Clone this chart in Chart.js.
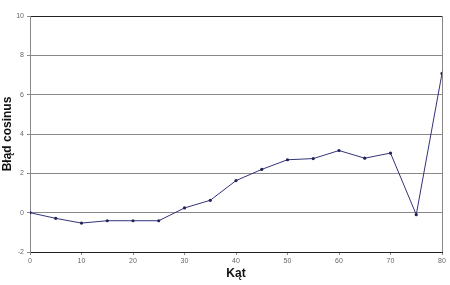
<!DOCTYPE html>
<html>
<head>
<meta charset="utf-8">
<script src="https://cdn.jsdelivr.net/npm/chart.js@4/dist/chart.umd.min.js"></script>
<style>
  html, body { margin: 0; padding: 0; background: #fff; }
  #wrap { width: 450px; height: 285px; }
</style>
</head>
<body>
<div id="wrap"><canvas id="myChart" width="450" height="285"></canvas></div>
<script>
// angles (x) and cosine error (y)
let angles = [0, 5, 10, 15, 20, 25, 30, 35, 40, 45, 50, 55, 60, 65, 70, 75, 80];
let errors = [0, -0.29, -0.53, -0.41, -0.41, -0.41, 0.24, 0.63, 1.63, 2.2, 2.69, 2.75, 3.16, 2.77, 3.03, -0.1, 7.08];

let xTitle = 'Kąt';
let yTitle = 'Błąd cosinus';

let points = angles.map((a, i) => ({ x: a, y: errors[i] }));

let data = {
    datasets: [{
        data: points,
        borderColor: '#33337a',
        backgroundColor: '#22225a',
        borderWidth: 1,
        pointRadius: 1.6,
        pointHoverRadius: 1.6,
        pointBorderWidth: 0,
        tension: 0
    }]
};

let tickFont = { family: 'Liberation Sans', size: 7 };

let config = {
    type: 'line',
    data: data,
    options: {
        responsive: false,
        animation: false,
        events: [],
        layout: { padding: { top: 16, right: 8, left: 0, bottom: 4 } },
        plugins: { legend: { display: false }, tooltip: { enabled: false } },
        scales: {
            x: {
                type: 'linear',
                min: 0, max: 80,
                ticks: { stepSize: 10, font: tickFont, color: '#666', padding: 2, maxRotation: 0 },
                grid: {
                    color: ctx => ctx.tick && ctx.tick.value === 80 ? '#888' : 'rgba(0,0,0,0)',
                    tickColor: '#888',
                    tickLength: 3,
                    drawTicks: true
                },
                border: { color: '#222', width: 1 },
                title: { display: true, text: xTitle, font: { family: 'Liberation Sans', size: 12, weight: 'bold' }, color: '#111', padding: { top: 0, bottom: 0 } },
                afterFit: s => { s.height = 29; }
            },
            y: {
                min: -2, max: 10,
                ticks: { stepSize: 2, font: tickFont, color: '#666', padding: 3 },
                grid: {
                    color: ctx => ctx.tick && ctx.tick.value === 10 ? '#222' : '#888',
                    tickColor: '#888',
                    tickLength: 3
                },
                border: { color: '#888', width: 1 },
                title: { display: true, text: yTitle, font: { family: 'Liberation Sans', size: 12, weight: 'bold' }, color: '#111', padding: { top: 0, bottom: 2 } },
                afterFit: s => { s.width = 30; }
            }
        }
    }
};

var myChart = new Chart(document.getElementById('myChart').getContext('2d'), config);
</script>
</body>
</html>
